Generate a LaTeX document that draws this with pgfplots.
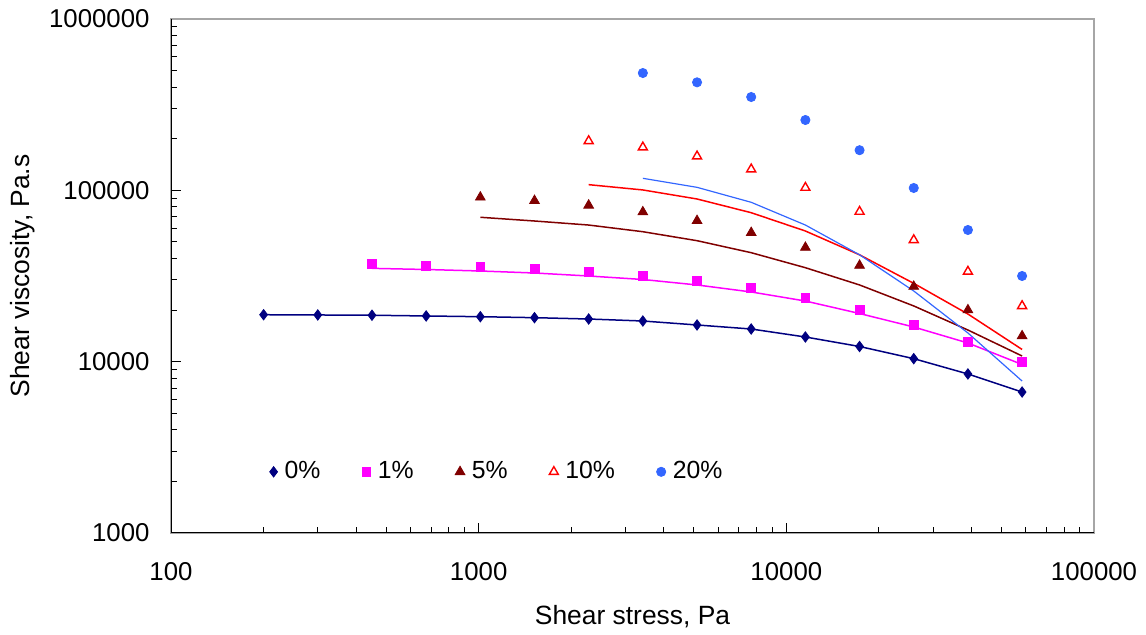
\documentclass[border=0pt]{standalone}
\usepackage{fontspec}
\setmainfont{Liberation Sans}
\usepackage{pgfplots}
\pgfplotsset{compat=1.18}
\usetikzlibrary{calc}

\definecolor{c0}{RGB}{0,0,128}
\definecolor{c1}{RGB}{255,0,255}
\definecolor{c5}{RGB}{128,0,0}
\definecolor{c10}{RGB}{255,0,0}
\definecolor{c20}{RGB}{51,102,255}

\begin{document}
\begin{tikzpicture}
\begin{axis}[
  xmode=log, ymode=log,
  scale only axis,
  width=461.5pt, height=257pt,
  xmin=100, xmax=100000,
  ymin=1000, ymax=1000000,
  xtick={100,1000,10000,100000},
  xticklabels={100,1000,10000,100000},
  ytick={1000,10000,100000,1000000},
  yticklabels={1000,10000,100000,1000000},
  tick pos=left,
  tick align=inside,
  major tick length=5pt,
  minor tick length=3pt,
  tick style={black, line width=0.5pt},
  axis line style={gray!70, line width=0.6pt},
  tick label style={font=\fontsize{12.9}{15}\selectfont},
  xticklabel style={anchor=center, yshift=-19.5pt},
  yticklabel style={anchor=east, xshift=-7.2pt},
  xlabel={Shear stress, Pa},
  ylabel={Shear viscosity, Pa.s},
  label style={font=\fontsize{13.2}{15}\selectfont},
  xlabel style={at={(axis description cs:0.5,-0.1634)}, anchor=center},
  ylabel style={at={(axis description cs:-0.1603,0.5)}, anchor=center},
  legend columns=5,
  legend style={draw=none, fill=none, at={(rel axis cs:0.1,0.119)}, anchor=west,
    font=\fontsize{12.4}{14}\selectfont, column sep=0pt,
    /tikz/every odd column/.append style={column sep=1.5pt},
    /tikz/every even column/.append style={column sep=18.8pt}},
  legend image code/.code={\draw[mark repeat=2,mark phase=2] plot coordinates {(0pt,0pt)(3pt,0pt)(6pt,0pt)};},
]
% model curves
\addplot[c0, line width=0.75pt, forget plot] coordinates {
(200,18790)(300,18730)(450,18660)(675,18480)(1012.5,18300)(1518.75,18060)
(2278,17740)(3417,17270)(5126,16370)(7689,15510)(11533,13930)(17300,12260)
(25949,10410)(38924,8475)(58386,6650)};
\addplot[c1, line width=0.75pt, forget plot] coordinates {
(450,35040)(675,34510)(1012.5,33820)(1518.75,32920)(2278,31620)(3417,30170)
(5126,28030)(7689,25510)(11533,22590)(17300,19100)(25949,15930)(38924,12850)(58386,9625)};
\addplot[c5, line width=0.75pt, forget plot] coordinates {
(1012.5,69620)(1518.75,66220)(2278,62720)(3417,57340)(5126,50820)(7689,43250)
(11533,35350)(17300,28030)(25949,21140)(38924,15300)(58386,10790)};
\addplot[c10, line width=0.75pt, forget plot] coordinates {
(2278,107900)(3417,100500)(5126,89000)(7689,74030)(11533,57880)(17300,42030)
(25949,28640)(38924,18970)(58386,11780)};
\addplot[c20, line width=0.6pt, forget plot] coordinates {
(3417,117500)(5126,104100)(7689,85130)(11533,62720)(17300,42030)(25949,25850)
(38924,14700)(58386,7707)};
% measured points
\addplot[only marks, mark=diamond*, mark size=2.6pt, c0] coordinates {
(200,18790)(300,18730)(450,18660)(675,18480)(1012.5,18300)(1518.75,18060)
(2278,17740)(3417,17270)(5126,16370)(7689,15510)(11533,13930)(17300,12260)
(25949,10410)(38924,8475)(58386,6650)};
\addlegendentry{0\%}
\addplot[only marks, mark=square*, mark size=2.2pt, c1] coordinates {
(450,37010)(675,36310)(1012.5,35920)(1518.75,34870)(2278,33500)(3417,31740)
(5126,29560)(7689,26810)(11533,23680)(17300,20020)(25949,16370)(38924,13020)(58386,9956)};
\addlegendentry{1\%}
\addplot[only marks, mark=triangle*, mark size=2.8pt, c5] coordinates {
(1012.5,91060)(1518.75,86990)(2278,81760)(3417,74700)(5126,66480)(7689,56570)
(11533,46370)(17300,36420)(25949,27460)(38924,20020)(58386,14120)};
\addlegendentry{5\%}
\addplot[only marks, mark=triangle, mark size=2.6pt, c10, mark options={line width=0.7pt, fill=white}] coordinates {
(2278,194100)(3417,178300)(5126,158000)(7689,132700)(11533,103600)(17300,75100)
(25949,51290)(38924,33550)(58386,21140)};
\addlegendentry{10\%}
\addplot[only marks, mark=*, mark size=2.3pt, c20] coordinates {
(3417,483800)(5126,426900)(7689,350500)(11533,257300)(17300,171500)(25949,103200)
(38924,58680)(58386,31620)};
\addlegendentry{20\%}
\draw[black, line width=0.75pt] (rel axis cs:0,1) -- (rel axis cs:0,0) -- (rel axis cs:1,0);
\coordinate (O) at (rel axis cs:0,0);
\coordinate (A) at (rel axis cs:1,1);
\end{axis}
\pgfresetboundingbox
\path[use as bounding box] ($(O)+(-85.5pt,-51pt)$) rectangle ($(A)+(26pt,9.5pt)$);
\end{tikzpicture}
\end{document}
